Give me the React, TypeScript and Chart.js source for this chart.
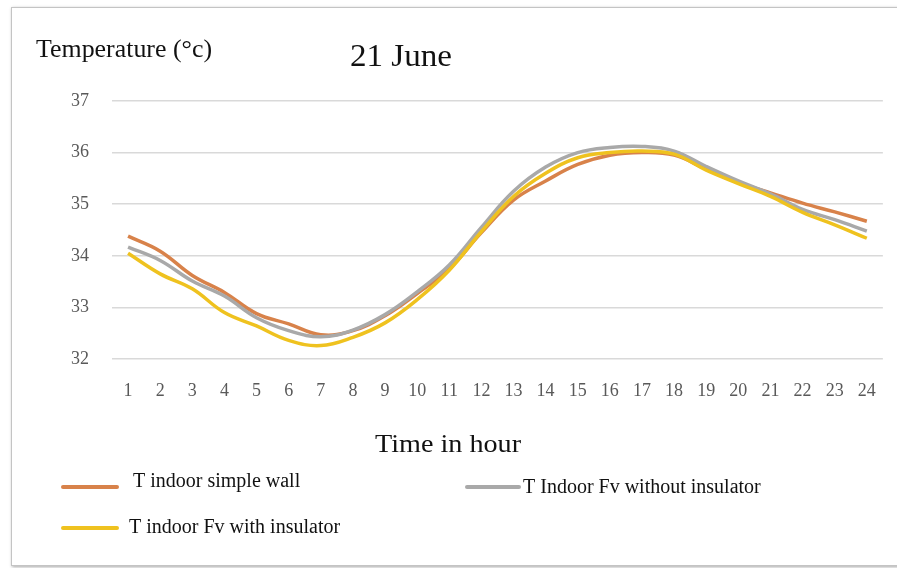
import React, { useEffect, useRef } from 'react';
import { Chart, registerables } from 'chart.js';

Chart.register(...registerables);

const hours = ['1','2','3','4','5','6','7','8','9','10','11','12','13','14','15','16','17','18','19','20','21','22','23','24'];
const simpleWall = [34.38, 34.09, 33.62, 33.29, 32.88, 32.68, 32.47, 32.55, 32.84, 33.27, 33.75, 34.45, 35.08, 35.45, 35.77, 35.95, 36.0, 35.95, 35.68, 35.42, 35.22, 35.02, 34.85, 34.67];
const fvWithout = [34.17, 33.91, 33.51, 33.22, 32.8, 32.55, 32.43, 32.56, 32.86, 33.3, 33.82, 34.55, 35.25, 35.72, 36.0, 36.1, 36.12, 36.03, 35.73, 35.45, 35.2, 34.9, 34.7, 34.48];
const fvWith = [34.05, 33.65, 33.36, 32.9, 32.64, 32.36, 32.26, 32.42, 32.7, 33.15, 33.72, 34.47, 35.15, 35.6, 35.9, 36.0, 36.03, 35.97, 35.66, 35.4, 35.15, 34.84, 34.6, 34.34];
const yMin = 32;
const yMax = 37;
const chartTitle = '21 June';
const yTitle = 'Temperature (°c)';
const xTitle = 'Time in hour';
const seriesLabels = ['T indoor simple wall', 'T Indoor Fv without insulator', 'T indoor Fv with insulator'];
const seriesColors = ['#d8824a', '#a9a9a9', '#efc21f'];

const FONT = '"Liberation Serif", "Times New Roman", serif';

function drawText(ctx: CanvasRenderingContext2D, text: string, x: number, y: number, size: number, width?: number, color = '#111') {
  ctx.save();
  ctx.font = `${size}px ${FONT}`;
  ctx.fillStyle = color;
  ctx.textBaseline = 'alphabetic';
  ctx.textAlign = 'left';
  const w = ctx.measureText(text).width;
  const sx = width ? width / w : 1;
  ctx.translate(x, y);
  ctx.scale(sx, 1);
  ctx.fillText(text, 0, 0);
  ctx.restore();
}

const decorPlugin = {
  id: 'decor',
  afterDraw(chart: any) {
    const ctx = chart.ctx as CanvasRenderingContext2D;
    drawText(ctx, yTitle, 36, 57, 25, 176);
    drawText(ctx, chartTitle, 350, 66, 31, 102);
    drawText(ctx, xTitle, 375, 452, 26, 146);
    const items = [
      { x1: 63, x2: 117, y: 487, tx: 133, ty: 487 },
      { x1: 467, x2: 519, y: 487, tx: 523, ty: 493 },
      { x1: 63, x2: 117, y: 528, tx: 129, ty: 533 },
    ];
    items.forEach((it, i) => {
      ctx.save();
      ctx.strokeStyle = seriesColors[i];
      ctx.lineWidth = 4;
      ctx.lineCap = 'round';
      ctx.beginPath();
      ctx.moveTo(it.x1, it.y);
      ctx.lineTo(it.x2, it.y);
      ctx.stroke();
      ctx.restore();
      drawText(ctx, seriesLabels[i], it.tx, it.ty, 20);
    });
  },
};

export default function App() {
  const canvasRef = useRef<HTMLCanvasElement | null>(null);

  useEffect(() => {
    document.body.style.margin = '0';
    const canvas = canvasRef.current;
    if (!canvas) return;
    const values = [simpleWall, fvWithout, fvWith];
    const chart = new Chart(canvas, {
      type: 'line',
      data: {
        labels: hours,
        datasets: values.map((d, i) => ({
          label: seriesLabels[i],
          data: d,
          borderColor: seriesColors[i],
          backgroundColor: seriesColors[i],
          borderWidth: 3.5,
          pointRadius: 0,
          tension: 0.4,
          fill: false,
          order: 2 - i,
        })),
      },
      options: {
        responsive: false,
        animation: false,
        layout: { padding: { left: 0, right: 9, top: 101, bottom: 0 } },
        plugins: {
          legend: { display: false },
          title: { display: false },
          tooltip: { enabled: false },
        },
        scales: {
          x: {
            offset: true,
            grid: { display: false, drawTicks: false },
            border: { display: false },
            ticks: {
              color: '#595959',
              font: { family: FONT, size: 18 },
              padding: 21,
              maxRotation: 0,
              autoSkip: false,
            },
            afterFit: (axis: any) => { axis.height = 209; },
          },
          y: {
            min: yMin,
            max: yMax,
            grid: { color: '#d9d9d9', lineWidth: 1.5, drawTicks: false },
            border: { display: false },
            ticks: {
              stepSize: 1,
              color: '#595959',
              font: { family: FONT, size: 18 },
              padding: 23,
            },
            afterFit: (axis: any) => { axis.width = 112; },
          },
        },
      },
      plugins: [decorPlugin],
    });
    return () => chart.destroy();
  }, []);

  return (
    <div style={{ position: 'relative', width: 897, height: 568, overflow: 'hidden', background: '#fff' }}>
      <div
        style={{
          position: 'absolute',
          left: 11,
          top: 7,
          width: 920,
          height: 557,
          border: '1px solid #c4c4c4',
          boxShadow: '1px 1px 3px rgba(0,0,0,0.35)',
          background: '#fff',
        }}
      />
      <canvas ref={canvasRef} width={897} height={568} style={{ position: 'absolute', left: 0, top: 0 }} />
    </div>
  );
}
